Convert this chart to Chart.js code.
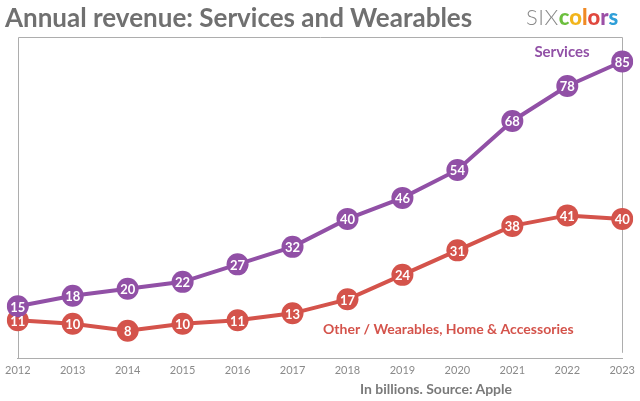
<!DOCTYPE html>
<html>
<head>
<meta charset="utf-8">
<script src="https://cdn.jsdelivr.net/npm/chart.js@4/dist/chart.umd.min.js"></script>
<style>
  html, body { margin: 0; padding: 0; background: #fff; }
  #wrap { position: relative; width: 640px; height: 401px; overflow: hidden; }
  #revChart { position: absolute; left: 0; top: 0; }
  .title { position: absolute; left: 5px; top: 1px; font: 700 26px Lato, sans-serif; color: #707070; white-space: nowrap; }
  .logo { position: absolute; left: 526px; top: 3px; font: 22px Lato, sans-serif; white-space: nowrap; }
  .logo .six { color: #8a8a8a; font-weight: 300; letter-spacing: 0.5px; }
  .logo b { font-weight: 900; }
  .source { position: absolute; left: 360px; top: 380px; font: 700 14px Lato, sans-serif; color: #7a7a7a; white-space: nowrap; }
</style>
</head>
<body>
<div id="wrap">
  <canvas id="revChart" width="640" height="401"></canvas>
  <div class="title">Annual revenue: Services and Wearables</div>
  <div class="logo"><span class="six">SIX</span><b style="color:#6cbf3e">c</b><b style="color:#f2b51c">o</b><b style="color:#f08a24">l</b><b style="color:#e0483e">o</b><b style="color:#9b4fa6">r</b><b style="color:#2f9fd8">s</b></div>
  <div class="source">In billions. Source: Apple</div>
</div>
<script>
// ====================================
// Annual revenue chart — Services vs Wearables
// ====================================

const years = ['2012', '2013', '2014', '2015', '2016', '2017', '2018', '2019', '2020', '2021', '2022', '2023'];
const servicesRevenue = [15, 18, 20, 22, 27, 32, 40, 46, 54, 68, 78, 85];
const wearablesRevenue = [11, 10, 8, 10, 11, 13, 17, 24, 31, 38, 41, 40];

const purple = '#9150a6';
const red = '#d4534b';

// white numbers inside each point + series names + frame
const pointLabels = {
  id: 'pointLabels',
  beforeDatasetsDraw(chart) {
    const { ctx, chartArea: a } = chart;
    const l = Math.round(a.left) + 0.5;
    const r = Math.round(a.right) + 0.5;
    const t = Math.round(a.top) + 0.5;
    ctx.save();
    ctx.strokeStyle = '#adadad';
    ctx.lineWidth = 1;
    ctx.beginPath();
    ctx.moveTo(l, a.bottom);
    ctx.lineTo(l, t);
    ctx.lineTo(r, t);
    ctx.lineTo(r, a.bottom - 6);
    ctx.stroke();
    ctx.restore();
  },
  afterDatasetsDraw(chart) {
    const { ctx } = chart;
    ctx.save();
    ctx.fillStyle = '#fff';
    ctx.font = '700 13px Lato, sans-serif';
    ctx.textAlign = 'center';
    ctx.textBaseline = 'middle';
    chart.data.datasets.forEach((ds, i) => {
      chart.getDatasetMeta(i).data.forEach((pt, j) => {
        ctx.fillText(String(ds.data[j]), pt.x, pt.y + 1);
      });
    });

    // series names
    ctx.font = '700 15px Lato, sans-serif';
    ctx.fillStyle = purple;
    ctx.fillText('Services', 562, 52);
    ctx.font = '700 14px Lato, sans-serif';
    ctx.fillStyle = red;
    ctx.textAlign = 'left';
    ctx.fillText('Other / Wearables, Home & Accessories', 323, 329);
    ctx.restore();
  }
};

const revCtx = document.getElementById('revChart').getContext('2d');

new Chart(revCtx, {
  type: 'line',
  data: {
    labels: years,
    datasets: [
      {
        label: 'Services',
        data: servicesRevenue,
        borderColor: purple,
        backgroundColor: purple,
        borderWidth: 4,
        pointRadius: 11,
        pointBorderWidth: 0,
        pointBackgroundColor: purple,
        tension: 0
      },
      {
        label: 'Other / Wearables, Home & Accessories',
        data: wearablesRevenue,
        borderColor: red,
        backgroundColor: red,
        borderWidth: 4,
        pointRadius: 11,
        pointBorderWidth: 0,
        pointBackgroundColor: red,
        tension: 0
      }
    ]
  },
  options: {
    responsive: false,
    animation: false,
    layout: { padding: { left: 15, right: 17, top: 37, bottom: 19 } },
    plugins: {
      legend: { display: false },
      tooltip: { enabled: false }
    },
    scales: {
      x: {
        offset: false,
        grid: { display: false, drawTicks: false },
        border: { display: true, color: '#adadad', width: 1 },
        ticks: { color: '#8a8a8a', font: { family: 'Lato, sans-serif', size: 11 }, padding: 5, maxRotation: 0, autoSkip: false }
      },
      y: {
        display: false,
        min: 0,
        max: 92
      }
    }
  },
  plugins: [pointLabels]
});
</script>
</body>
</html>
